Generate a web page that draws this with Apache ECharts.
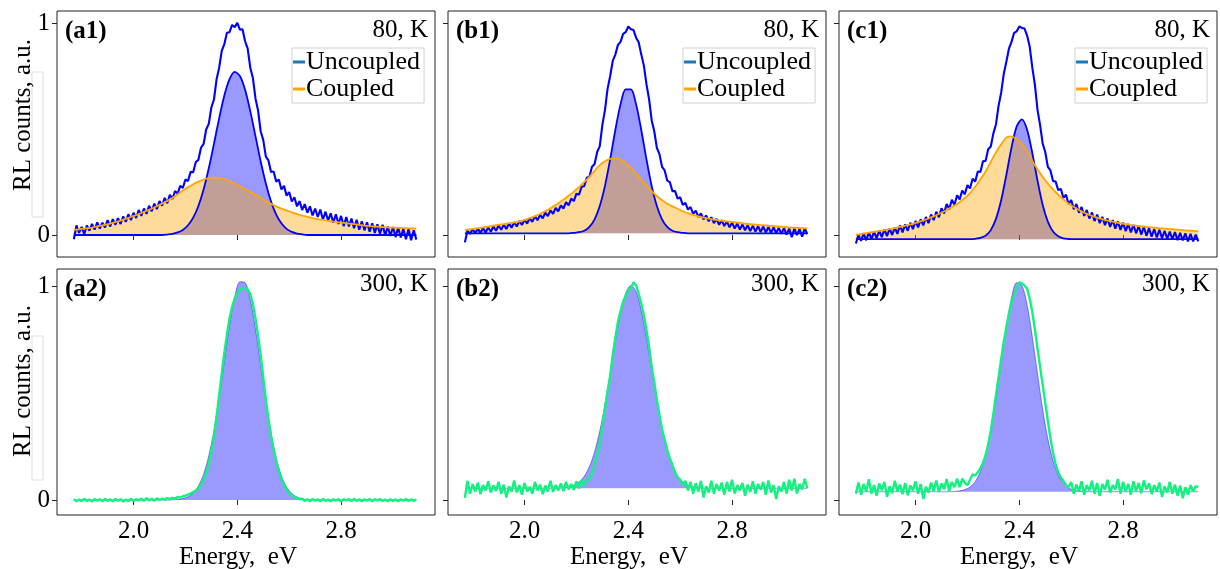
<!DOCTYPE html>
<html>
<head>
<meta charset="utf-8">
<script src="https://cdn.jsdelivr.net/npm/echarts@6/dist/echarts.min.js"></script>
<style>html,body{margin:0;padding:0;background:#fff}#chart{width:1220px;height:569px}</style>
</head>
<body>
<div id="chart"></div>
<script>
// ---------------- DATA ----------------
// energy grid of the fitted curves (eV)
const energy = [1.77,1.79,1.81,1.83,1.85,1.87,1.89,1.91,1.93,1.95,1.97,1.99,2.01,2.03,2.05,2.07,2.09,2.11,2.13,2.15,2.17,2.19,2.21,2.23,2.25,2.27,2.29,2.31,2.33,2.35,2.37,2.39,2.41,2.43,2.45,2.47,2.49,2.51,2.53,2.55,2.57,2.59,2.61,2.63,2.65,2.67,2.69,2.71,2.73,2.75,2.77,2.79,2.81,2.83,2.85,2.87,2.89,2.91,2.93,2.95,2.97,2.99,3.01,3.03,3.05,3.07,3.09];
// energy grid of the measured spectra (eV)
const energyFine = [1.77,1.78,1.79,1.80,1.81,1.82,1.83,1.84,1.85,1.86,1.87,1.88,1.89,1.90,1.91,1.92,1.93,1.94,1.95,1.96,
 1.97,1.98,1.99,2.00,2.01,2.02,2.03,2.04,2.05,2.06,2.07,2.08,2.09,2.10,2.11,2.12,2.13,2.14,2.15,2.16,
 2.17,2.18,2.19,2.20,2.21,2.22,2.23,2.24,2.25,2.26,2.27,2.28,2.29,2.30,2.31,2.32,2.33,2.34,2.35,2.36,
 2.37,2.38,2.39,2.40,2.41,2.42,2.43,2.44,2.45,2.46,2.47,2.48,2.49,2.50,2.51,2.52,2.53,2.54,2.55,2.56,
 2.57,2.58,2.59,2.60,2.61,2.62,2.63,2.64,2.65,2.66,2.67,2.68,2.69,2.70,2.71,2.72,2.73,2.74,2.75,2.76,
 2.77,2.78,2.79,2.80,2.81,2.82,2.83,2.84,2.85,2.86,2.87,2.88,2.89,2.90,2.91,2.92,2.93,2.94,2.95,2.96,
 2.97,2.98,2.99,3.00,3.01,3.02,3.03,3.04,3.05,3.06,3.07,3.08,3.09];

const xTicks = [2.0, 2.4, 2.8];
const yTicks = [0, 1];
const panelTags = ['(a1)','(b1)','(c1)','(a2)','(b2)','(c2)'];
const temperatures = ['80, K','80, K','80, K','300, K','300, K','300, K'];
const legendNames = ['Uncoupled','Coupled'];

// ---- 80 K ----
const a1Measured = [-0.020,0.045,0.010,0.038,0.004,0.045,0.020,0.052,0.025,0.060,
 0.030,0.058,0.035,0.070,0.040,0.075,0.048,0.080,0.052,0.088,
 0.062,0.098,0.070,0.105,0.080,0.118,0.090,0.125,0.100,0.138,
 0.112,0.148,0.122,0.160,0.138,0.175,0.150,0.190,0.170,0.208,
 0.195,0.232,0.222,0.262,0.255,0.298,0.296,0.345,0.355,0.412,
 0.430,0.498,0.525,0.602,0.640,0.735,0.790,0.870,0.902,0.955,
 0.958,0.992,0.982,1.002,0.970,0.972,0.915,0.880,0.790,0.742,
 0.645,0.588,0.490,0.448,0.370,0.352,0.298,0.300,0.252,0.262,
 0.215,0.232,0.186,0.203,0.158,0.178,0.135,0.160,0.118,0.146,
 0.105,0.135,0.092,0.125,0.085,0.120,0.072,0.110,0.068,0.102,
 0.058,0.098,0.052,0.090,0.042,0.085,0.040,0.078,0.032,0.072,
 0.025,0.065,0.022,0.060,0.015,0.055,0.010,0.050,0.005,0.048,
 -0.002,0.040,-0.005,0.038,-0.010,0.035,-0.012,0.030,-0.020,0.028,
 -0.025,0.022,-0.022];
const a1Uncoupled = [0,0,0,0,0,0,0,0,0,0,0,0,0,0,0,0,0,0,
 0.002,0.005,0.012,0.024,0.046,0.082,0.137,0.215,0.315,0.431,0.551,0.659,0.736,0.770,0.751,0.686,0.585,0.467,0.348,0.243,0.158,0.096,0.055,0.029,0.015,0.007,0.003,
 0,0,0,0,0,0,0,0,0,0,0,0,0,0,0,0,0,0,0,0,0,0];
const a1Coupled = [0.024,0.027,0.030,0.033,0.038,0.043,0.048,0.054,0.061,0.068,
 0.076,0.085,0.094,0.104,0.114,0.124,0.136,0.148,0.161,0.175,
 0.192,0.210,0.226,0.240,0.252,0.262,0.269,0.272,0.270,0.264,
 0.254,0.243,0.230,0.216,0.203,0.190,0.176,0.160,0.147,0.135,
 0.125,0.116,0.107,0.099,0.092,0.086,0.080,0.075,0.071,0.067,
 0.063,0.060,0.057,0.054,0.051,0.048,0.044,0.042,0.040,0.038,
 0.037,0.035,0.034,0.033,0.032,0.031,0.030];

const b1Measured = [-0.035,0.020,0.005,0.028,0.008,0.030,0.010,0.032,0.012,0.035,
 0.015,0.040,0.020,0.045,0.025,0.048,0.028,0.055,0.034,0.060,
 0.040,0.066,0.047,0.072,0.054,0.080,0.062,0.088,0.070,0.095,
 0.079,0.105,0.089,0.116,0.100,0.128,0.112,0.140,0.125,0.155,
 0.140,0.172,0.160,0.195,0.190,0.228,0.230,0.270,0.275,0.322,
 0.335,0.392,0.420,0.520,0.590,0.690,0.750,0.822,0.852,0.898,
 0.912,0.950,0.958,0.985,0.972,0.968,0.932,0.910,0.852,0.800,
 0.712,0.642,0.542,0.490,0.412,0.382,0.322,0.305,0.257,0.250,
 0.207,0.208,0.172,0.178,0.142,0.152,0.120,0.132,0.100,0.115,
 0.085,0.102,0.074,0.092,0.065,0.084,0.056,0.076,0.048,0.070,
 0.042,0.064,0.036,0.058,0.030,0.054,0.026,0.050,0.022,0.046,
 0.018,0.044,0.016,0.042,0.014,0.040,0.012,0.038,0.010,0.036,
 0.008,0.034,0.005,0.032,0.002,0.030,-0.010,0.030,0.000,0.028,
 -0.008,0.030,0.005];
const b1Uncoupled = [0.008,0.008,0.008,0.008,0.008,0.008,0.008,0.008,0.008,0.008,
 0.008,0.008,0.008,0.008,0.008,0.008,0.008,0.008,0.008,0.008,
 0.008,0.010,0.013,0.020,0.038,0.074,0.137,0.232,0.357,0.496,0.617,0.688,0.688,0.617,0.496,0.357,0.232,0.137,0.074,0.038,0.020,0.013,0.010,0.008,
 0.008,0.008,0.008,0.008,0.008,0.008,0.008,0.008,0.008,0.008,0.008,0.008,0.008,0.008,0.008,0.008,0.008,0.008,0.008,0.008,0.008,0.008,0.008];
const b1Coupled = [0.024,0.027,0.030,0.034,0.038,0.042,0.046,0.050,0.053,0.057,
 0.061,0.067,0.075,0.084,0.094,0.106,0.119,0.134,0.150,0.167,
 0.185,0.205,0.226,0.250,0.275,0.303,0.330,0.348,0.359,0.362,
 0.356,0.340,0.317,0.290,0.262,0.234,0.207,0.184,0.164,0.148,
 0.135,0.124,0.112,0.103,0.095,0.088,0.082,0.077,0.073,0.069,
 0.066,0.063,0.060,0.057,0.054,0.051,0.049,0.047,0.045,0.043,
 0.041,0.039,0.037,0.035,0.034,0.032,0.031];

const c1Measured = [-0.040,0.000,-0.028,0.008,-0.025,0.012,-0.020,0.015,-0.015,0.020,
 -0.010,0.025,-0.005,0.030,0.000,0.035,0.005,0.045,0.012,0.050,
 0.020,0.058,0.028,0.066,0.036,0.074,0.045,0.085,0.056,0.097,
 0.070,0.110,0.084,0.126,0.102,0.146,0.122,0.166,0.142,0.188,
 0.168,0.210,0.192,0.236,0.220,0.266,0.252,0.300,0.298,0.348,
 0.350,0.405,0.418,0.480,0.522,0.610,0.672,0.760,0.818,0.880,
 0.912,0.955,0.962,0.985,0.978,0.975,0.942,0.890,0.792,0.710,
 0.592,0.520,0.432,0.392,0.322,0.305,0.255,0.252,0.212,0.218,
 0.175,0.190,0.145,0.165,0.122,0.146,0.105,0.132,0.090,0.118,
 0.078,0.106,0.066,0.096,0.056,0.086,0.046,0.078,0.038,0.070,
 0.030,0.064,0.024,0.058,0.018,0.052,0.012,0.048,0.008,0.042,
 0.002,0.038,-0.004,0.032,-0.008,0.028,-0.012,0.025,-0.015,0.020,
 -0.018,0.016,-0.020,0.014,-0.024,0.010,-0.026,0.008,-0.030,0.005,
 -0.030,0.002,-0.030];
const c1Uncoupled = [-0.020,-0.020,-0.020,-0.020,-0.020,-0.020,-0.020,-0.020,-0.020,-0.020,
 -0.020,-0.020,-0.020,-0.020,-0.020,-0.020,-0.020,-0.020,-0.020,-0.020,-0.020,-0.020,-0.020,
 -0.018,-0.014,-0.003,0.023,0.076,0.164,0.284,0.413,0.513,0.546,0.497,0.388,0.258,0.143,0.063,0.016,-0.006,-0.016,-0.019,
 -0.020,-0.020,-0.020,-0.020,-0.020,-0.020,-0.020,-0.020,-0.020,-0.020,-0.020,-0.020,-0.020,-0.020,-0.020,-0.020,-0.020,-0.020,-0.020,-0.020,-0.020,-0.020,-0.020,-0.020,-0.020];
const c1Coupled = [0.001,0.005,0.009,0.013,0.017,0.021,0.025,0.030,0.035,0.041,
 0.047,0.053,0.061,0.069,0.078,0.088,0.099,0.111,0.125,0.139,
 0.155,0.175,0.198,0.228,0.262,0.300,0.345,0.390,0.428,0.460,
 0.466,0.452,0.430,0.396,0.350,0.310,0.275,0.243,0.215,0.190,
 0.168,0.148,0.132,0.118,0.105,0.095,0.086,0.078,0.071,0.065,
 0.060,0.055,0.051,0.047,0.044,0.041,0.038,0.036,0.033,0.031,
 0.029,0.027,0.025,0.023,0.021,0.019,0.017];

// ---- 300 K ----
const a2Measured = [0.004,-0.006,0.003,-0.005,0.006,-0.004,0.002,-0.007,0.005,-0.003,
 0.004,-0.006,0.006,-0.004,0.003,-0.006,0.005,-0.003,0.004,-0.007,
 0.002,-0.005,0.006,-0.004,0.004,-0.002,0.007,-0.004,0.010,-0.002,
 0.006,-0.003,0.008,0.000,0.007,0.002,0.009,0.004,0.010,0.008,
 0.014,0.012,0.018,0.020,0.026,0.030,0.037,0.045,0.055,0.072,
 0.095,0.128,0.170,0.228,0.300,0.390,0.490,0.592,0.690,0.775,
 0.850,0.905,0.945,0.970,0.985,0.992,0.995,0.985,0.965,0.918,
 0.850,0.770,0.680,0.575,0.470,0.380,0.300,0.235,0.180,0.135,
 0.100,0.072,0.050,0.033,0.022,0.014,0.010,0.004,0.006,-0.004,
 0.004,-0.006,0.005,-0.003,0.004,-0.006,0.006,-0.004,0.002,-0.006,
 0.004,-0.003,0.005,-0.007,0.004,-0.002,0.005,-0.005,0.006,-0.004,
 0.003,-0.006,0.004,-0.003,0.005,-0.006,0.004,-0.002,0.005,-0.005,
 0.003,-0.006,0.004,-0.004,0.003,-0.006,0.004,-0.003,0.005,-0.005,
 0.003,-0.004,0.002];
const a2Peak = [0,0,0,0,0,0,0,0,0,0,0,0,0,0,0,0,0,0,0,
 0.001,0.003,0.007,0.015,0.033,0.066,0.121,0.207,0.327,0.480,0.651,0.817,0.950,1.022,1.018,0.939,0.801,0.634,0.463,0.314,0.197,0.114,0.061,0.031,0.014,0.006,0.002,0.001,
 0,0,0,0,0,0,0,0,0,0,0,0,0,0,0,0,0,0,0,0];

const b2Measured = [0.010,0.090,0.030,0.075,0.040,0.082,0.028,0.070,0.045,0.088,
 0.035,0.068,0.042,0.085,0.030,0.072,0.012,0.065,0.040,0.092,
 0.035,0.070,0.025,0.080,0.040,0.062,0.030,0.085,0.045,0.072,
 0.028,0.068,0.040,0.090,0.038,0.070,0.045,0.078,0.042,0.085,
 0.050,0.075,0.048,0.088,0.055,0.092,0.070,0.098,0.095,0.130,
 0.165,0.215,0.270,0.350,0.430,0.510,0.580,0.680,0.760,0.835,
 0.885,0.930,0.955,0.985,0.990,1.020,1.005,0.965,0.920,0.865,
 0.795,0.720,0.625,0.550,0.470,0.400,0.330,0.285,0.235,0.195,
 0.165,0.130,0.105,0.095,0.070,0.090,0.045,0.085,0.030,0.078,
 0.040,0.090,0.012,0.065,0.035,0.090,0.030,0.075,0.045,0.082,
 0.025,0.085,0.040,0.095,0.030,0.070,0.045,0.080,0.020,0.072,
 0.038,0.088,0.030,0.075,0.048,0.085,0.025,0.092,0.035,0.070,
 0.005,0.065,0.040,0.085,0.030,0.095,0.045,0.100,0.030,0.075,
 0.050,0.100,0.055];
const b2Peak = [0.055,0.055,0.055,0.055,0.055,0.055,0.055,0.055,0.055,0.055,0.055,0.055,0.055,0.055,0.055,0.055,0.055,0.055,
 0.056,0.058,0.061,0.069,0.084,0.111,0.156,0.225,0.323,0.448,0.593,0.743,0.876,0.969,1.005,0.976,0.888,0.758,0.609,0.462,0.334,0.233,0.162,0.114,0.086,0.070,0.062,0.058,0.056,
 0.055,0.055,0.055,0.055,0.055,0.055,0.055,0.055,0.055,0.055,0.055,0.055,0.055,0.055,0.055,0.055,0.055,0.055,0.055,0.055];

const c2Measured = [0.030,0.082,0.025,0.075,0.040,0.098,0.030,0.070,0.020,0.078,
 0.045,0.085,0.015,0.065,0.032,0.090,0.040,0.072,0.028,0.080,
 0.022,0.068,0.045,0.088,0.030,0.075,0.005,0.062,0.035,0.082,
 0.040,0.092,0.038,0.078,0.050,0.098,0.042,0.085,0.060,0.100,
 0.060,0.100,0.080,0.070,0.095,0.120,0.115,0.130,0.150,0.175,
 0.210,0.260,0.325,0.405,0.490,0.575,0.660,0.740,0.810,0.870,
 0.925,0.965,0.990,1.020,1.015,1.005,0.990,0.945,0.880,0.800,
 0.710,0.625,0.540,0.455,0.370,0.290,0.220,0.170,0.130,0.105,
 0.090,0.070,0.060,0.085,0.030,0.072,0.040,0.088,0.025,0.070,
 0.045,0.090,0.030,0.080,0.020,0.075,0.048,0.095,0.035,0.070,
 0.050,0.098,0.030,0.085,0.042,0.075,0.025,0.088,0.040,0.080,
 0.032,0.092,0.050,0.078,0.028,0.070,0.040,0.082,0.015,0.065,
 0.035,0.085,0.030,0.072,0.020,0.068,0.008,0.060,0.025,0.070,
 0.040,0.065,0.060];
const c2Peak = [0.039,0.039,0.039,0.039,0.039,0.039,0.039,0.039,0.039,0.039,0.039,0.039,0.039,0.039,0.039,0.039,0.039,0.039,0.039,
 0.040,0.043,0.049,0.061,0.087,0.134,0.211,0.324,0.473,0.645,0.814,0.948,1.018,1.005,0.914,0.765,0.592,0.425,0.286,0.184,0.117,0.078,0.057,0.046,0.042,0.040,
 0.039,0.039,0.039,0.039,0.039,0.039,0.039,0.039,0.039,0.039,0.039,0.039,0.039,0.039,0.039,0.039,0.039,0.039,0.039,0.039,0.039,0.039];

// fill baselines of the fitted peaks, per panel
const fillBase = [0, 0.008, -0.02, 0, 0.055, 0.039];

// ---------------- LAYOUT ----------------
const FONT = '"Liberation Serif", "Times New Roman", serif';
const colLeft = [57, 448, 839];
const rowTop = [11, 269];
const PW = 378, PH = 246;
const xRange = [1.705, 3.162];
const yRanges = [[-0.104, 1.058], [-0.070, 1.082]];

function pts(xs, vals) { return xs.map((e, i) => [e, vals[i]]); }

const grids = [], xAxes = [], yAxes = [], series = [], graphics = [];
for (let p = 0; p < 6; p++) {
  const row = p < 3 ? 0 : 1, col = p % 3;
  grids.push({ left: colLeft[col], top: rowTop[row], width: PW, height: PH,
    show: true, borderColor: '#222', borderWidth: 1, backgroundColor: 'transparent' });
  xAxes.push({ gridIndex: p, type: 'value', min: xRange[0], max: xRange[1],
    axisLine: { show: false }, splitLine: { show: false },
    axisTick: { show: true, length: 5, customValues: xTicks, lineStyle: { color: '#222' } },
    axisLabel: { show: row === 1, customValues: xTicks, margin: 4, fontSize: 25,
      fontFamily: FONT, color: '#000', formatter: v => v.toFixed(1) } });
  yAxes.push({ gridIndex: p, type: 'value', min: yRanges[row][0], max: yRanges[row][1],
    axisLine: { show: false }, splitLine: { show: false },
    axisTick: { show: true, length: 5, customValues: yTicks, lineStyle: { color: '#222' } },
    axisLabel: { show: col === 0, customValues: yTicks, margin: 7, fontSize: 25,
      fontFamily: FONT, color: '#000', formatter: v => String(Math.round(v)) } });

  graphics.push({ type: 'text', left: colLeft[col] + 8, top: rowTop[row] + 8,
    style: { text: panelTags[p], font: 'bold 25px ' + FONT, fill: '#000' }, z: 10 });
  graphics.push({ type: 'text', x: colLeft[col] + PW - 7, y: rowTop[row] + (row === 0 ? 19 : 15),
    style: { text: temperatures[p], font: '25px ' + FONT, fill: '#000', align: 'right', verticalAlign: 'middle' }, z: 10 });
}

const lineBase = { type: 'line', showSymbol: false, symbol: 'none', animation: false, silent: true };
function topPanel(p, measured, unc, cou) {
  const base = fillBase[p];
  series.push(Object.assign({}, lineBase, { name: 'fillU' + p, xAxisIndex: p, yAxisIndex: p, data: pts(energy, unc), smooth: 0.3,
    lineStyle: { width: 0, color: 'rgba(0,0,255,0)' }, areaStyle: { color: 'rgba(0,0,255,0.4)', opacity: 1, origin: base } }));
  series.push(Object.assign({}, lineBase, { name: 'fillC' + p, xAxisIndex: p, yAxisIndex: p, data: pts(energy, cou), smooth: 0.3,
    lineStyle: { width: 0, color: 'rgba(255,165,0,0)' }, areaStyle: { color: 'rgba(255,165,0,0.4)', opacity: 1, origin: base } }));
  series.push(Object.assign({}, lineBase, { name: 'meas' + p, xAxisIndex: p, yAxisIndex: p, data: pts(energyFine, measured),
    lineStyle: { width: 2.1, color: '#0000ff' } }));
  series.push(Object.assign({}, lineBase, { name: 'lineU' + p, xAxisIndex: p, yAxisIndex: p, data: pts(energy, unc), smooth: 0.3,
    lineStyle: { width: 1.8, color: '#0000ff' } }));
  series.push(Object.assign({}, lineBase, { name: 'lineC' + p, xAxisIndex: p, yAxisIndex: p, data: pts(energy, cou), smooth: 0.3,
    lineStyle: { width: 1.8, color: '#ffa500' } }));
}
function bottomPanel(p, measured, peak) {
  series.push(Object.assign({}, lineBase, { name: 'peak' + p, xAxisIndex: p, yAxisIndex: p, data: pts(energy, peak), smooth: 0.3,
    lineStyle: { width: 1, color: 'rgba(0,0,255,0.45)' }, areaStyle: { color: 'rgba(0,0,255,0.4)', opacity: 1, origin: fillBase[p] } }));
  series.push(Object.assign({}, lineBase, { name: 'meas' + p, xAxisIndex: p, yAxisIndex: p, data: pts(energyFine, measured),
    lineStyle: { width: 2.4, color: '#12f27e' } }));
}
topPanel(0, a1Measured, a1Uncoupled, a1Coupled);
topPanel(1, b1Measured, b1Uncoupled, b1Coupled);
topPanel(2, c1Measured, c1Uncoupled, c1Coupled);
bottomPanel(3, a2Measured, a2Peak);
bottomPanel(4, b2Measured, b2Peak);
bottomPanel(5, c2Measured, c2Peak);

// legend-only series
series.push({ type: 'line', name: legendNames[0], xAxisIndex: 0, yAxisIndex: 0, data: [],
  itemStyle: { color: '#1f77b4' }, lineStyle: { color: '#1f77b4' } });
series.push({ type: 'line', name: legendNames[1], xAxisIndex: 0, yAxisIndex: 0, data: [],
  itemStyle: { color: '#ffa500' }, lineStyle: { color: '#ffa500' } });

const legendLefts = [292, 683, 1075];
const legends = legendLefts.map(l => ({
  left: l, top: 48, orient: 'vertical', data: legendNames, icon: 'rect',
  itemWidth: 12, itemHeight: 3, itemGap: 1, padding: [1, 4, 1, 1],
  borderColor: '#d0d0d0', borderWidth: 1, backgroundColor: 'rgba(255,255,255,0.8)',
  selectedMode: false,
  textStyle: { fontFamily: FONT, fontSize: 26, color: '#000', lineHeight: 25, padding: [0, 0, 0, -4] }
}));

// axis titles
for (let r = 0; r < 2; r++) {
  const cy = r === 0 ? 115 : 381;
  graphics.push({ type: 'text', x: 23, y: cy, rotation: Math.PI / 2,
    style: { text: 'RL counts, a.u.', font: '25px ' + FONT, fill: '#000', align: 'center', verticalAlign: 'middle' }, z: 10 });
  graphics.push({ type: 'rect', shape: { x: 32, y: r === 0 ? 72 : 336, width: 11, height: r === 0 ? 145 : 144 },
    style: { fill: 'none', stroke: '#dddddd', lineWidth: 1 }, z: 5 });
}
const xTitleCenters = [238, 629, 1019];
xTitleCenters.forEach(cx => {
  graphics.push({ type: 'text', x: cx, y: 557,
    style: { text: 'Energy,  eV', font: '25px ' + FONT, fill: '#000', align: 'center', verticalAlign: 'middle' }, z: 10 });
});

const chart = echarts.init(document.getElementById('chart'), null, { renderer: 'canvas' });
chart.setOption({
  animation: false,
  backgroundColor: '#ffffff',
  grid: grids, xAxis: xAxes, yAxis: yAxes, series: series,
  legend: legends, graphic: graphics
});
</script>
</body>
</html>
